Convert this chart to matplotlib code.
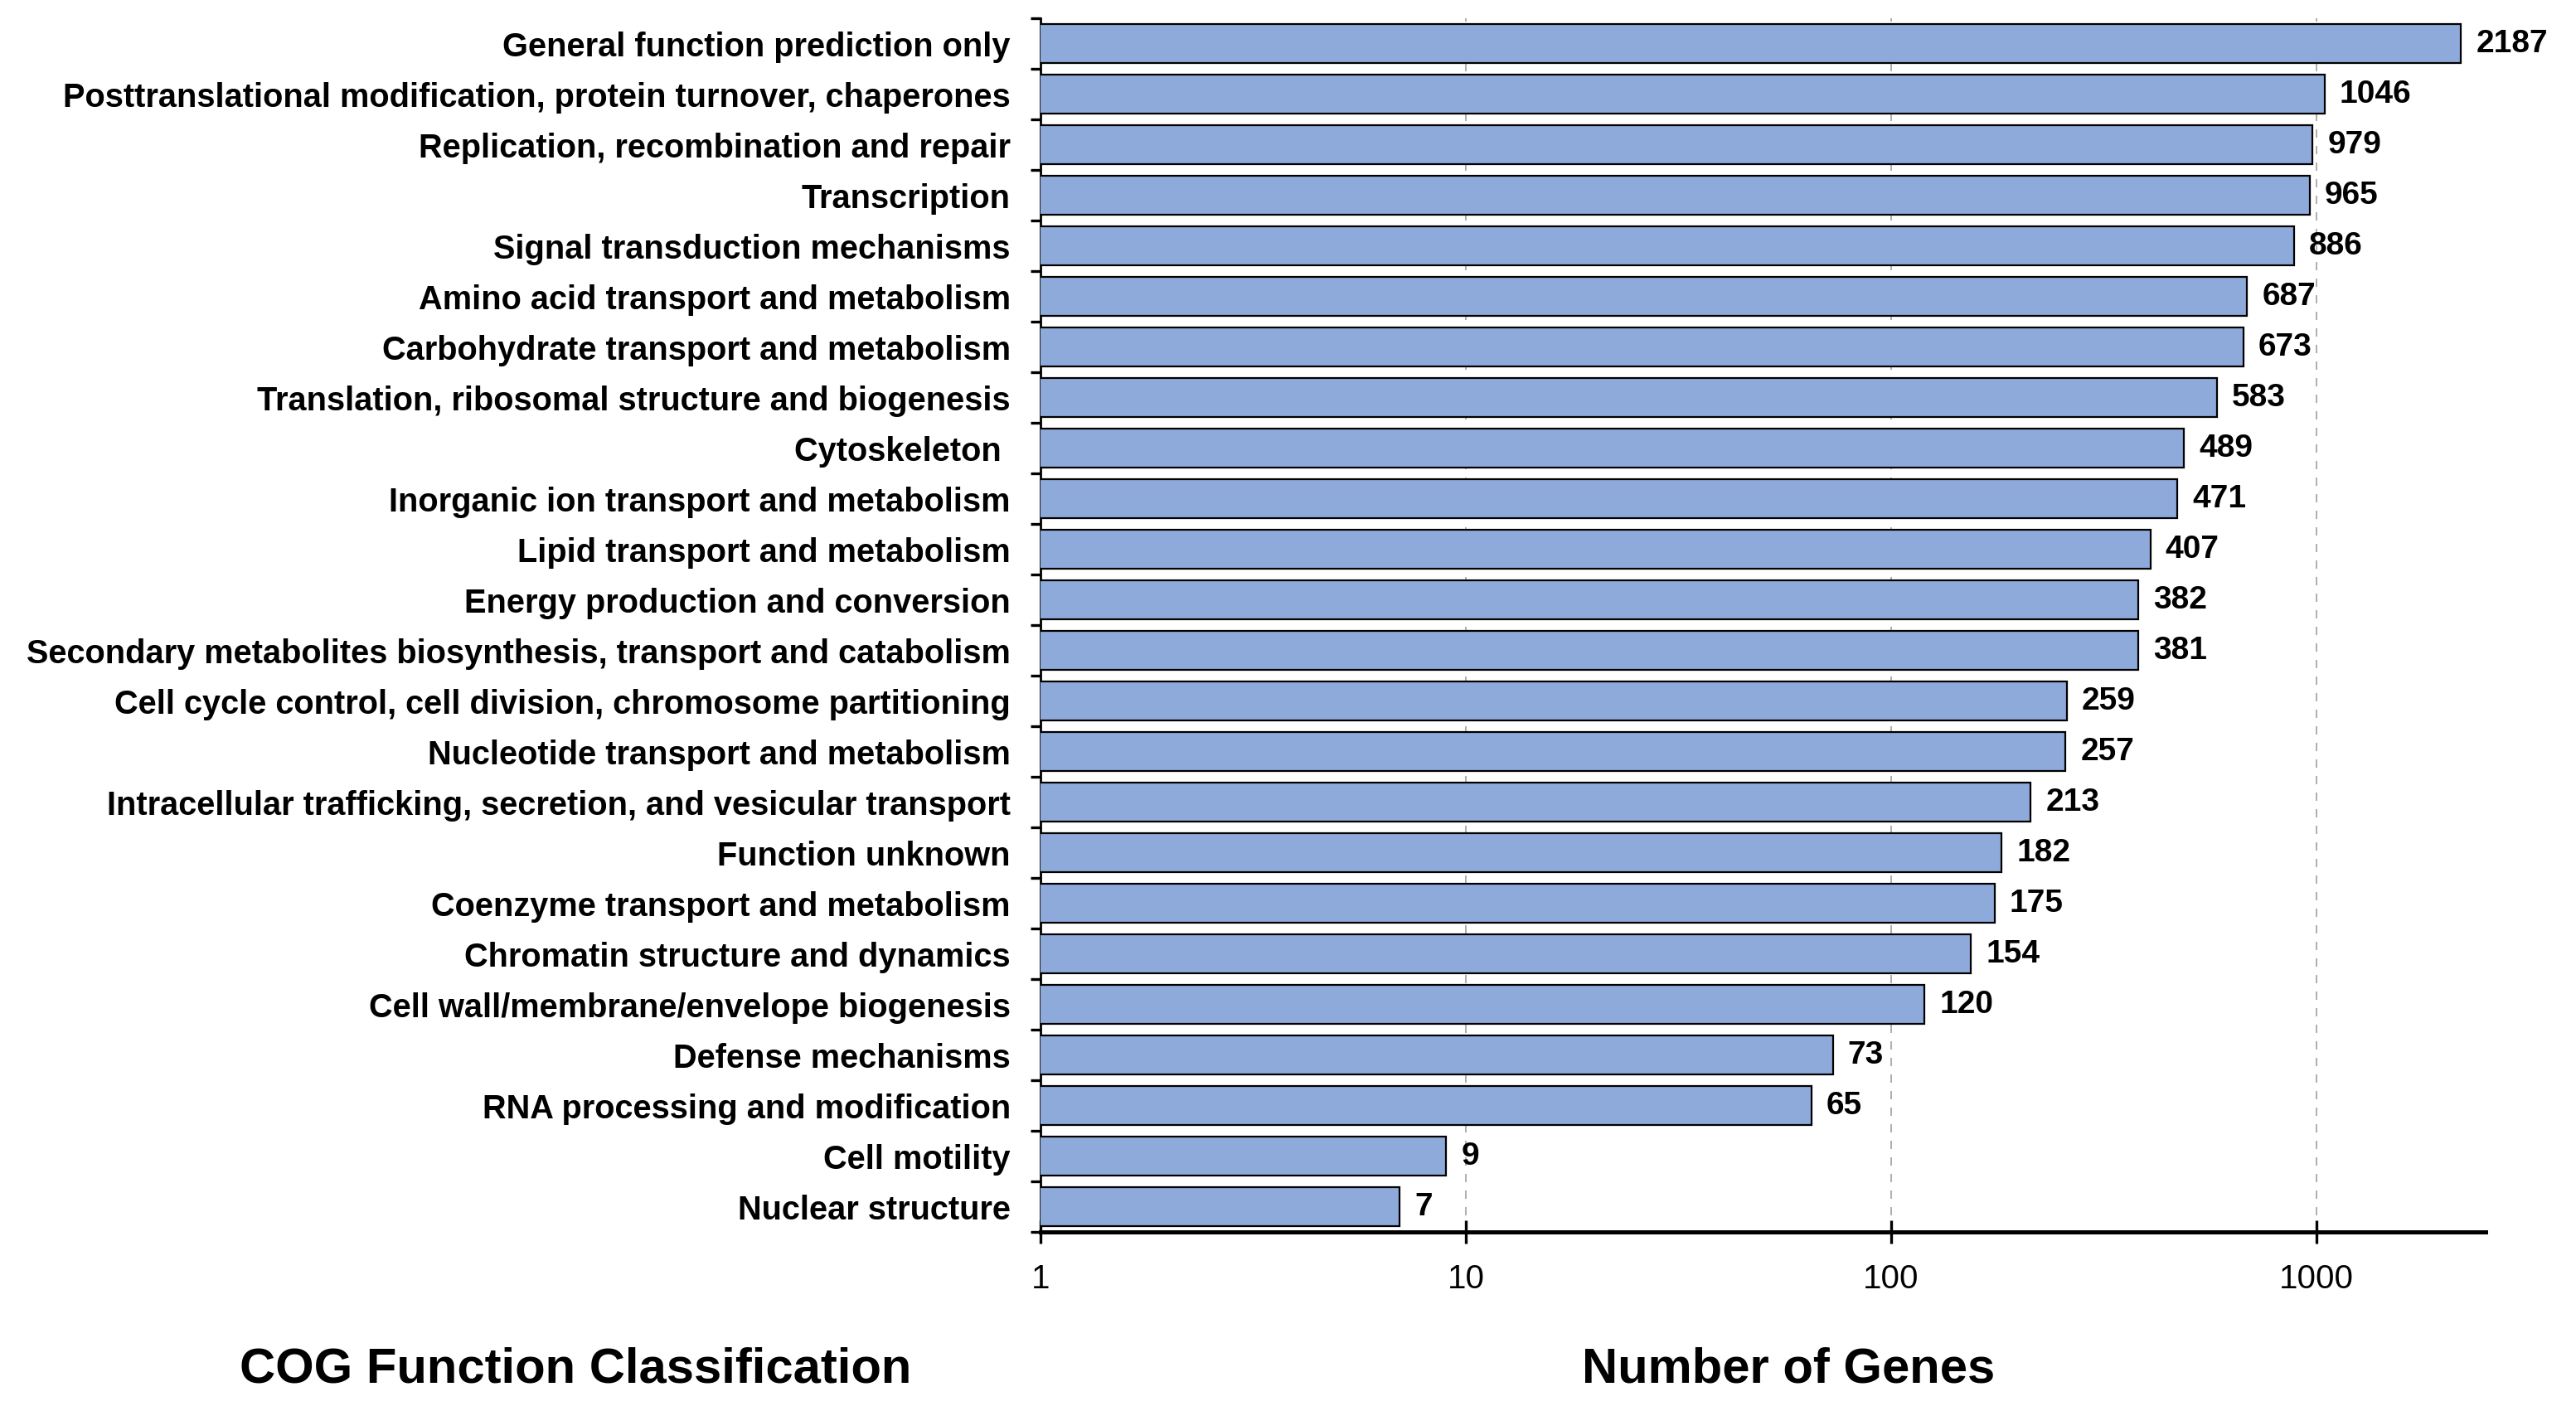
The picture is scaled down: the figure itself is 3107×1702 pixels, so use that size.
import matplotlib
matplotlib.use("Agg")
import matplotlib.pyplot as plt
import numpy as np

plt.rcParams['font.family'] = ['Liberation Sans', 'DejaVu Sans']

# COG categories, top to bottom
categories = [
    "General function prediction only",
    "Posttranslational modification, protein turnover, chaperones",
    "Replication, recombination and repair",
    "Transcription",
    "Signal transduction mechanisms",
    "Amino acid transport and metabolism",
    "Carbohydrate transport and metabolism",
    "Translation, ribosomal structure and biogenesis",
    "Cytoskeleton ",
    "Inorganic ion transport and metabolism",
    "Lipid transport and metabolism",
    "Energy production and conversion",
    "Secondary metabolites biosynthesis, transport and catabolism",
    "Cell cycle control, cell division, chromosome partitioning",
    "Nucleotide transport and metabolism",
    "Intracellular trafficking, secretion, and vesicular transport",
    "Function unknown",
    "Coenzyme transport and metabolism",
    "Chromatin structure and dynamics",
    "Cell wall/membrane/envelope biogenesis",
    "Defense mechanisms",
    "RNA processing and modification",
    "Cell motility",
    "Nuclear structure",
]
gene_counts = [2187, 1046, 979, 965, 886, 687, 673, 583, 489, 471, 407, 382,
               381, 259, 257, 213, 182, 175, 154, 120, 73, 65, 9, 7]
x_ticks = [1, 10, 100, 1000]
x_ticklabels = ["1", "10", "100", "1000"]

fig = plt.figure(figsize=(31.07, 17.02), dpi=100)
ax = fig.add_axes([0.4039, 0.1269, 0.561, 0.8601])

ax.set_xscale('log')
ypos = np.arange(len(categories))
ax.barh(ypos, gene_counts, height=0.78, color='#8EAADB',
        edgecolor='black', linewidth=1.6, zorder=3)

ax.set_xlim(1, 2500)
ax.set_ylim(len(categories) - 0.5, -0.5)

# value labels
for y, v in zip(ypos, gene_counts):
    ax.annotate(str(v), xy=(v, y), xytext=(13, 0), textcoords='offset points',
                ha='left', va='center', fontsize=28, fontweight='bold')

# y ticks: labels at centres, small marks at boundaries
ax.set_yticks(ypos)
ax.set_yticklabels(categories, fontsize=28.6, fontweight='bold')
ax.tick_params(axis='y', which='major', length=0, pad=26)
ax.set_yticks(np.arange(len(categories) + 1) - 0.5, minor=True)
ax.tick_params(axis='y', which='minor', length=8.6, width=2.4, direction='out')

ax.set_xticks(x_ticks)
ax.set_xticklabels(x_ticklabels, fontsize=29)
ax.xaxis.set_minor_locator(matplotlib.ticker.NullLocator())
ax.tick_params(axis='x', which='major', direction='inout', length=20, width=2.4, pad=17)

ax.grid(axis='x', which='major', linestyle=(0, (6, 6)), color='#a0a0a0',
        linewidth=1.2, zorder=0)

for s in ['top', 'right']:
    ax.spines[s].set_visible(False)
ax.spines['left'].set_linewidth(2.0)
ax.spines['bottom'].set_linewidth(3.6)

fig.text(694 / 3107, 1 - 1652 / 1702, "COG Function Classification",
         ha='center', va='center', fontsize=43, fontweight='bold')
fig.text(2157 / 3107, 1 - 1652 / 1702, "Number of Genes",
         ha='center', va='center', fontsize=43, fontweight='bold')

fig.savefig("out.png", dpi=100)
